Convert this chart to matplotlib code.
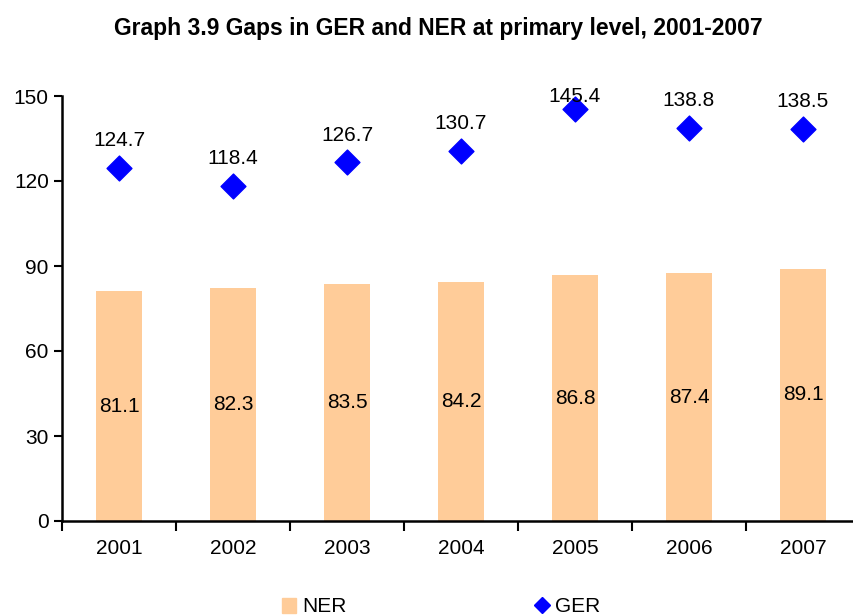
import matplotlib.pyplot as plt
from matplotlib.lines import Line2D
from matplotlib.patches import Patch

plt.rcParams['font.family'] = ['Liberation Sans', 'DejaVu Sans']

years = ["2001", "2002", "2003", "2004", "2005", "2006", "2007"]
ner = [81.1, 82.3, 83.5, 84.2, 86.8, 87.4, 89.1]
ger = [124.7, 118.4, 126.7, 130.7, 145.4, 138.8, 138.5]

W, H = 854, 616
fig = plt.figure(figsize=(W / 100, H / 100), dpi=100)
# axes: left spine at x=62, right edge ~860 (clipped), y0 at 521, y150 at 96
ax = fig.add_axes([62 / W, (H - 521) / H, (860 - 62) / W, (521 - 96) / H])

x = list(range(len(years)))
ax.bar(x, ner, width=0.41, color="#FFCC99", zorder=2)
ax.scatter(x, ger, marker="D", s=160, color="#0000FF", zorder=3)

for xi, v in zip(x, ner):
    ax.text(xi, v / 2, f"{v:.1f}", ha="center", va="center", fontsize=15)
for xi, v in zip(x, ger):
    # labels kept inside the plot area, like the original
    ax.text(xi, min(v + 9.5, 149.7), f"{v:.1f}", ha="center", va="center",
            fontsize=15, zorder=4)

ax.set_xlim(-0.5, len(years) - 0.5)
ax.set_ylim(0, 150)
ax.set_yticks([0, 30, 60, 90, 120, 150])
ax.tick_params(axis="y", labelsize=15, length=6, width=1.5, direction="out")
ax.set_xticks([i - 0.5 for i in range(len(years) + 1)])
ax.set_xticklabels([])
ax.set_xticks(x, minor=True)
ax.set_xticklabels(years, minor=True, fontsize=15)
ax.tick_params(axis="x", which="major", length=7, width=1.5, direction="out")
ax.tick_params(axis="x", which="minor", length=0, pad=13)

for side in ("top", "right"):
    ax.spines[side].set_visible(False)
for side in ("left", "bottom"):
    ax.spines[side].set_linewidth(1.8)

fig.text(438 / W, 1 - 28 / H, "Graph 3.9 Gaps in GER and NER at primary level, 2001-2007",
         ha="center", va="center", fontsize=16.5, fontweight="bold")

handles = [Patch(color="#FFCC99"),
           Line2D([], [], marker="D", color="#0000FF", linestyle="none", markersize=8)]
fig.legend(handles, ["NER", "GER"], loc="center", bbox_to_anchor=(441 / W, 1 - 607 / H),
           ncol=2, frameon=False, fontsize=15, columnspacing=9.0, handlelength=0.7,
           handletextpad=0.3)

fig.savefig("out.png", dpi=100, facecolor="white")
